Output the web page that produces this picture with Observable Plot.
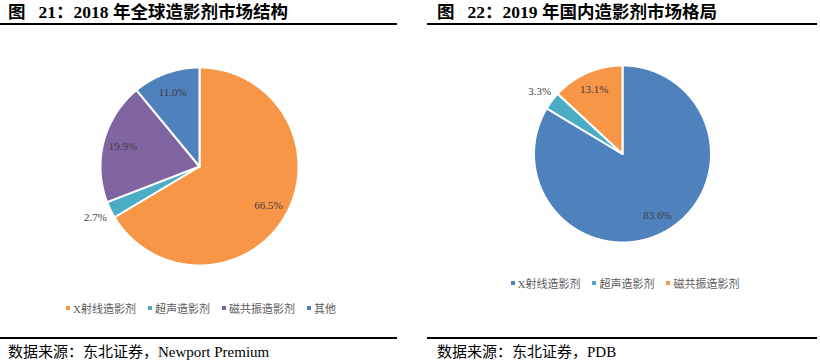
<!DOCTYPE html>
<html><head><meta charset="utf-8">
<script src="https://cdn.jsdelivr.net/npm/d3@7"></script>
<script src="https://cdn.jsdelivr.net/npm/@observablehq/plot@0.6"></script>
<style>
html,body{margin:0;padding:0;background:#fff;}
#root{position:relative;width:820px;height:362px;overflow:hidden;background:#fff;}
.abs{position:absolute;}
.title{font-family:"Liberation Serif","Noto Sans CJK SC",serif;font-weight:bold;font-size:17.5px;color:#000;white-space:pre;line-height:20px;}
.rule{background:#000;height:2px;}
.src{font-family:"Liberation Serif","Noto Sans CJK SC",serif;font-size:15px;color:#000;white-space:nowrap;line-height:18px;}
.legend{display:flex;justify-content:center;align-items:center;font-family:"Liberation Serif","Noto Sans CJK SC",serif;font-size:11px;color:#595959;white-space:nowrap;}
.legend .item{display:flex;align-items:center;margin:0 6px;}
.legend .sw{display:inline-block;width:4px;height:4px;margin-right:3px;}
</style>
</head><body>
<div id="root"></div>
<script>
// ---- data ----
const leftTitle = "图   21：2018 年全球造影剂市场结构";
const leftCategories = ["X射线造影剂", "超声造影剂", "磁共振造影剂", "其他"];
const leftValues = [66.5, 2.7, 19.9, 11.0];
const leftSource = "数据来源：东北证券，Newport Premium";

const rightTitle = "图   22：2019 年国内造影剂市场格局";
const rightCategories = ["X射线造影剂", "超声造影剂", "磁共振造影剂"];
const rightValues = [83.6, 3.3, 13.1];
const rightSource = "数据来源：东北证券，PDB";

// ---- styles ----
const leftPalette = ["#F79646", "#4BACC6", "#8064A2", "#4F81BD"];
const rightPalette = ["#4F81BD", "#4BACC6", "#F79646"];

const root = document.getElementById("root");

function el(cls, text, css) {
  const d = document.createElement("div");
  d.className = "abs " + cls;
  if (text) d.textContent = text;
  Object.assign(d.style, css);
  root.appendChild(d);
  return d;
}

function pieChart(cats, vals, palette, cx, cy, R, w, h) {
  const total = d3.sum(vals);
  let acc = 0;
  const pts = [], labels = [];
  cats.forEach((c, i) => {
    const a0 = acc / total * 2 * Math.PI;
    acc += vals[i];
    const a1 = acc / total * 2 * Math.PI;
    const n = Math.max(2, Math.ceil((a1 - a0) / (Math.PI / 360)));
    pts.push({c, x: 0, y: 0});
    for (let k = 0; k <= n; k++) {
      const a = a0 + (a1 - a0) * k / n;
      pts.push({c, x: Math.sin(a), y: Math.cos(a)});
    }
    pts.push({c, x: 0, y: 0});
    const am = (a0 + a1) / 2;
    const outside = vals[i] / total < 0.05;
    const r = outside ? 1.17 : 0.8;
    labels.push({x: r * Math.sin(am), y: r * Math.cos(am), t: vals[i].toFixed(1) + "%"});
  });
  return Plot.plot({
    width: w, height: h, margin: 0,
    x: {domain: [-1, 1], range: [cx - R, cx + R], axis: null},
    y: {domain: [-1, 1], range: [cy + R, cy - R], axis: null},
    color: {domain: cats, range: palette},
    style: {background: "transparent", overflow: "visible"},
    marks: [
      Plot.line(pts, {x: "x", y: "y", z: "c", fill: "c", stroke: "white", strokeWidth: 2, strokeLinejoin: "round"}),
      Plot.text(labels, {x: "x", y: "y", text: "t", fontSize: 11, fill: "#404040", fontFamily: "Liberation Serif, serif"})
    ]
  });
}

function legend(cats, palette, css) {
  const d = el("legend", null, css);
  cats.forEach((c, i) => {
    const it = document.createElement("span");
    it.className = "item";
    const sw = document.createElement("span");
    sw.className = "sw";
    sw.style.background = palette[i];
    it.appendChild(sw);
    it.appendChild(document.createTextNode(c));
    d.appendChild(it);
  });
}

// left panel
const lp = pieChart(leftCategories, leftValues, leftPalette, 199, 166, 99, 410, 362);
lp.style.position = "absolute"; lp.style.left = "0px"; lp.style.top = "0px";
root.appendChild(lp);
el("title", leftTitle, {left: "8px", top: "2px"});
el("rule", null, {left: "0px", top: "23px", width: "397px"});
legend(leftCategories, leftPalette, {left: "0px", width: "402px", top: "301px", height: "14px"});
el("rule", null, {left: "0px", top: "337px", width: "397px"});
el("src", leftSource, {left: "8px", top: "343px"});

// right panel
const rp = pieChart(rightCategories, rightValues, rightPalette, 212, 153.5, 88.5, 410, 362);
rp.style.position = "absolute"; rp.style.left = "410px"; rp.style.top = "0px";
root.appendChild(rp);
el("title", rightTitle, {left: "437px", top: "2px"});
el("rule", null, {left: "427px", top: "23px", width: "390px"});
legend(rightCategories, rightPalette, {left: "427px", width: "396px", top: "276px", height: "14px"});
el("rule", null, {left: "427px", top: "337px", width: "390px"});
el("src", rightSource, {left: "437px", top: "343px"});
</script>
</body></html>
